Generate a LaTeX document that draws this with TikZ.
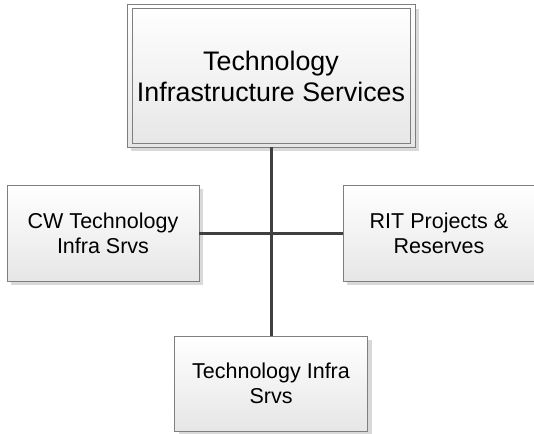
\documentclass[tikz,border=0pt]{standalone}
\usepackage{fontspec}
\setmainfont{Liberation Sans}
\usetikzlibrary{shadows}
\definecolor{boxline}{HTML}{7F7F7F}
\definecolor{boxbot}{HTML}{E6E6E6}
\definecolor{shadowgray}{HTML}{D9D9D9}
\definecolor{connline}{HTML}{404040}
\tikzset{
  orgbox/.style={draw=boxline, line width=1pt, top color=white, bottom color=boxbot,
    align=center, inner sep=0pt, outer sep=0pt, text=black,
    drop shadow={shadow xshift=4pt, shadow yshift=-4pt, fill=shadowgray, opacity=1}},
  smallbox/.style={orgbox, minimum width=192pt, minimum height=96pt,
    font=\fontsize{21.5}{25}\selectfont},
  conn/.style={draw=connline, line width=3pt}
}
\begin{document}
\begin{tikzpicture}[x=1pt, y=-1pt]
\useasboundingbox (0,0) rectangle (534,433);
\node[orgbox, minimum width=288pt, minimum height=142pt,
  font=\fontsize{26.8}{31}\selectfont] (top) at (271,76) {Technology\\Infrastructure Services};
\draw[draw=boxline, line width=1pt] ([shift={(5,4)}]top.north west) rectangle ([shift={(-5,-4)}]top.south east);
\node[smallbox] (left) at (103,233) {CW Technology\\Infra Srvs};
\node[smallbox] (right) at (439,233) {RIT Projects \&\\Reserves};
\node[smallbox, minimum width=193pt, minimum height=95pt] (bot) at (271,383.5) {Technology Infra\\Srvs};
\draw[conn] (top.south) -- (bot.north);
\draw[conn] (left.east) -- (right.west);
\end{tikzpicture}
\end{document}
